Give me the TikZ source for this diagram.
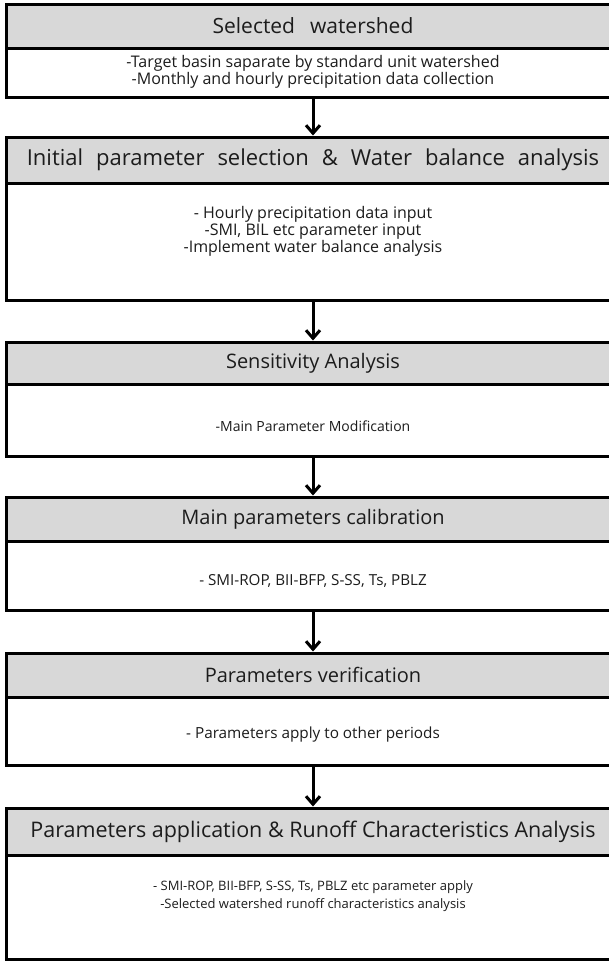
\documentclass[tikz,border=0pt]{standalone}
\usepackage{fontspec}
\setmainfont{Open Sans}
\usetikzlibrary{arrows.meta}
\definecolor{hdrgray}{RGB}{216,216,216}
\definecolor{ink}{RGB}{28,28,28}
\begin{document}
\begin{tikzpicture}[x=1pt,y=-1pt,
  boxpart/.style={draw=black,line width=3pt,minimum width=614pt,inner sep=0pt,text=ink,align=center},
  hdr/.style={boxpart,fill=hdrgray,font=\fontsize{20}{24}\selectfont},
  bdy/.style={boxpart,fill=white},
  btxt/.style={inner sep=0pt,text=ink,align=center,font=\fontsize{16}{17}\selectfont},
  flow/.style={line width=3pt,-{Straight Barb[length=8pt,width=14pt]}}]
\useasboundingbox (0,0) rectangle (609,962);
\clip (0,0) rectangle (609,962);
\fill[white] (0,0) rectangle (609,962);
% box 1
\node[hdr,minimum height=44pt,font=\fontsize{21}{24}\selectfont] (h1) at (313,26) {Selected\hspace{15pt}watershed};
\node[bdy,minimum height=49pt] (b1) at (313,72.5) {};
\node[btxt] (t1) at (313,71.5) {-Target basin saparate by standard unit watershed\\-Monthly and hourly precipitation data collection};
% box 2
\node[hdr,minimum height=46pt,font=\fontsize{22}{24}\selectfont] (h2) at (313,160) {Initial\hspace{13pt}parameter\hspace{13pt}selection\hspace{13pt}\&\hspace{13pt}Water\hspace{13pt}balance\hspace{13pt}analysis};
\node[bdy,minimum height=117pt] (b2) at (313,241.5) {};
\node[btxt] (t2) at (313,231) {- Hourly precipitation data input\\-SMI, BIL etc parameter input\\-Implement water balance analysis};
% box 3
\node[hdr,minimum height=42pt] (h3) at (313,363) {Sensitivity Analysis};
\node[bdy,minimum height=72pt] (b3) at (313,420) {};
\node[btxt,font=\fontsize{14}{16}\selectfont] (t3) at (313,426) {-Main Parameter Modification};
% box 4
\node[hdr,minimum height=44pt] (h4) at (313,519) {Main parameters calibration};
\node[bdy,minimum height=69pt] (b4) at (313,575.5) {};
\node[btxt,font=\fontsize{15.2}{17}\selectfont] (t4) at (313,581) {- SMI-ROP, BII-BFP, S-SS, Ts, PBLZ};
% box 5
\node[hdr,minimum height=44pt] (h5) at (313,675) {Parameters verification};
\node[bdy,minimum height=68pt] (b5) at (313,731) {};
\node[btxt,font=\fontsize{15.3}{17}\selectfont] (t5) at (313,735) {- Parameters apply to other periods};
% box 6
\node[hdr,minimum height=47pt,font=\fontsize{21.5}{24}\selectfont] (h6) at (313,831.5) {Parameters application \& Runoff Characteristics Analysis};
\node[bdy,minimum height=104pt] (b6) at (313,907) {};
\node[btxt,font=\fontsize{13}{18}\selectfont] (t6) at (313,896) {- SMI-ROP, BII-BFP, S-SS, Ts, PBLZ etc parameter apply\\-Selected watershed runoff characteristics analysis};
% arrows
\draw[flow] (b1.south) -- (h2.north);
\draw[flow] (b2.south) -- (h3.north);
\draw[flow] (b3.south) -- (h4.north);
\draw[flow] (b4.south) -- (h5.north);
\draw[flow] (b5.south) -- (h6.north);
\end{tikzpicture}
\end{document}
